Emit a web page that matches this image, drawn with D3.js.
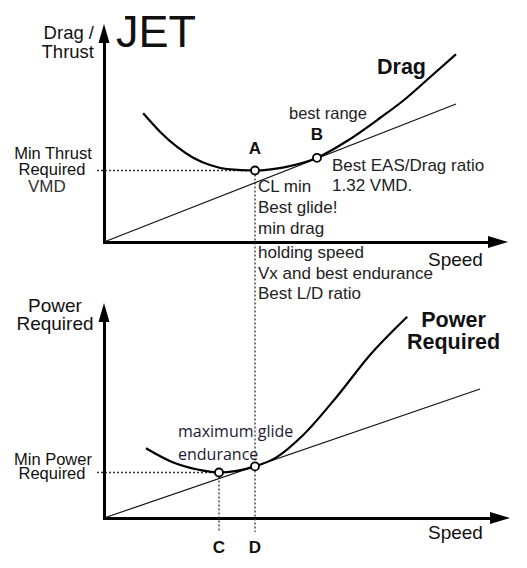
<!DOCTYPE html>
<html><head><meta charset="utf-8">
<script src="https://cdn.jsdelivr.net/npm/d3@7"></script>
<style>
body{margin:0;background:#fff;}
svg{display:block;}
text{font-family:"Liberation Sans",Arial,sans-serif;fill:#111;}
</style></head>
<body>
<script>
// ---- data ----
const dragSpeed = [9.8, 14, 18.2, 22.3, 26.5, 30.7, 37.75, 45, 53.25, 60.75, 69, 75, 81, 88];
const dragValue = [64.35, 55.15, 47.65, 42.15, 38.5, 36.5, 35.75, 37.3, 42.1, 50.5, 62, 71, 81.5, 93.85];
const thrustTangentSpeed = [0, 88];
const thrustTangentValue = [0, 69];

const powerSpeed = [10.5, 17, 24, 28.75, 33.2, 37.75, 43, 49.8, 58.2, 66.5, 75.8];
const powerValue = [34.85, 28, 24, 22.75, 23.6, 25.8, 30.2, 41.5, 60.65, 81.5, 100.65];
const powerTangentSpeed = [0, 94];
const powerTangentValue = [0, 64.5];

const topPointNames = ["A", "B"];
const topPointSpeed = [37.75, 53.25];
const topPointValue = [35.75, 42.1];
const botPointNames = ["C", "D"];
const botPointSpeed = [28.75, 37.75];
const botPointValue = [22.75, 25.8];

const textA = ["CL min", "Best glide!", "min drag", "holding speed", "Vx and best endurance", "Best L/D ratio"];
const textB = ["Best EAS/Drag ratio", "1.32 VMD."];
const textGlide = ["maximum glide", "endurance"];

// ---- layout ----
const W = 527, H = 568;
const svg = d3.select("body").append("svg").attr("width", W).attr("height", H);

const x = d3.scaleLinear().domain([0, 100]).range([104, 504]);
const yTop = d3.scaleLinear().domain([0, 100]).range([242, 42]);
const yBot = d3.scaleLinear().domain([0, 100]).range([518, 318]);

// axes (no ticks) with arrow heads
function drawAxes(yScale, yTip, xTip) {
  const xa = d3.scaleLinear().domain([0, 1]).range([x(0) - 1.5, xTip - 10]);
  const ya = d3.scaleLinear().domain([0, 1]).range([yScale(0) + 1.5, yTip + 10]);
  const gx = svg.append("g").attr("transform", `translate(0,${yScale(0)})`)
    .call(d3.axisBottom(xa).tickValues([]).tickSizeOuter(0));
  const gy = svg.append("g").attr("transform", `translate(${x(0)},0)`)
    .call(d3.axisLeft(ya).tickValues([]).tickSizeOuter(0));
  [gx, gy].forEach(g => g.select(".domain").attr("stroke", "#000").attr("stroke-width", 3));
  const y0 = yScale(0), x0 = x(0);
  svg.append("path").attr("d", `M${xTip},${y0} L${xTip - 20},${y0 - 6} L${xTip - 20},${y0 + 6} Z`).attr("fill", "#000");
  svg.append("path").attr("d", `M${x0},${yTip} L${x0 - 5.5},${yTip + 19} L${x0 + 5.5},${yTip + 19} Z`).attr("fill", "#000");
}
drawAxes(yTop, 24, 508);
drawAxes(yBot, 303, 510);

// dotted guides
const dotted = (x1, y1, x2, y2) => svg.append("line")
  .attr("x1", x1).attr("y1", y1).attr("x2", x2).attr("y2", y2)
  .attr("stroke", "#333").attr("stroke-width", 1.3).attr("stroke-dasharray", "2,2");
dotted(x(-1.75), yTop(topPointValue[0]), x(topPointSpeed[0]), yTop(topPointValue[0]));
dotted(x(topPointSpeed[0]), yTop(topPointValue[0]), x(topPointSpeed[0]), yBot(-7));
dotted(x(-1.75), yBot(botPointValue[0]), x(botPointSpeed[0]), yBot(botPointValue[0]));
dotted(x(botPointSpeed[0]), yBot(botPointValue[0]), x(botPointSpeed[0]), yBot(-7));

// tangent lines
function tangent(sp, va, yScale) {
  const pts = sp.map((s, i) => [x(s), yScale(va[i])]);
  svg.append("path").attr("d", d3.line()(pts)).attr("stroke", "#111").attr("stroke-width", 1.2).attr("fill", "none");
}
tangent(thrustTangentSpeed, thrustTangentValue, yTop);
tangent(powerTangentSpeed, powerTangentValue, yBot);

// curves
function curve(sp, va, yScale) {
  const pts = sp.map((s, i) => [x(s), yScale(va[i])]);
  svg.append("path").attr("d", d3.line().curve(d3.curveMonotoneX)(pts))
    .attr("stroke", "#000").attr("stroke-width", 2.2).attr("fill", "none");
}
curve(dragSpeed, dragValue, yTop);
curve(powerSpeed, powerValue, yBot);

// points
function points(sp, va, yScale) {
  sp.forEach((s, i) => svg.append("circle").attr("cx", x(s)).attr("cy", yScale(va[i])).attr("r", 4)
    .attr("fill", "#fff").attr("stroke", "#000").attr("stroke-width", 1.8));
}
points(topPointSpeed, topPointValue, yTop);
points(botPointSpeed, botPointValue, yBot);

// text helper
function txt(str, tx, ty, size, opts = {}) {
  const t = svg.append("text").attr("x", tx).attr("y", ty).attr("font-size", size).text(str);
  if (opts.anchor) t.attr("text-anchor", opts.anchor);
  if (opts.bold) t.attr("font-weight", "bold");
  if (opts.family) t.style("font-family", opts.family);
  if (opts.fill) t.style("fill", opts.fill);
  return t;
}

// top chart labels
txt("JET", 116, 47, 45);
txt("Drag /", 94, 39, 18.5, {anchor: "end"});
txt("Thrust", 94, 58, 18.5, {anchor: "end"});
txt("Drag", 377, 74, 21.5, {bold: true});
txt("best range", 289, 119, 16.5, {fill: "#222"});
txt(topPointNames[1], x(topPointSpeed[1]), 140, 17, {anchor: "middle", bold: true});
txt(topPointNames[0], x(topPointSpeed[0]), 154, 17, {anchor: "middle", bold: true});
[171, 191].forEach((b, i) => txt(textB[i], 332, b, 17, {fill: "#222"}));
[192, 213, 234, 258, 279, 299].forEach((b, i) => txt(textA[i], 258, b, 17, {fill: "#222"}));
txt("Speed", 428, 266, 19);
txt("Min Thrust", 53, 159, 16.5, {anchor: "middle"});
txt("Required", 52, 175, 16.5, {anchor: "middle"});
txt("VMD", 28, 192, 17, {fill: "#333"});

// bottom chart labels
txt("Power", 55, 312, 19, {anchor: "middle"});
txt("Required", 55, 330, 19, {anchor: "middle"});
txt("Power", 453.5, 327, 21.5, {anchor: "middle", bold: true});
txt("Required", 453.5, 349, 21.5, {anchor: "middle", bold: true});
[437, 460].forEach((b, i) => txt(textGlide[i], 178, b, 16, {family: "'Open Sans', 'Noto Sans', sans-serif", fill: "#1a1a33"}));
txt("Min Power", 53, 465, 16.5, {anchor: "middle"});
txt("Required", 52, 479, 16.5, {anchor: "middle"});
botPointNames.forEach((n, i) => txt(n, x(botPointSpeed[i]), 553, 17, {anchor: "middle", bold: true}));
txt("Speed", 428, 539, 19);
</script>
</body></html>
